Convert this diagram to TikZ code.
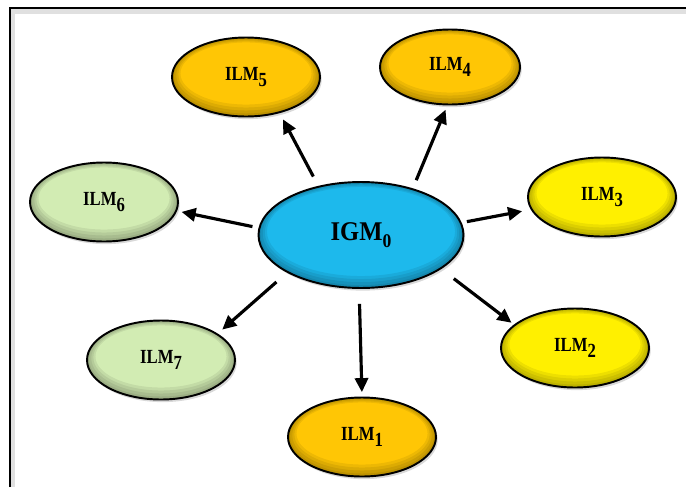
\documentclass[tikz,border=0pt]{standalone}
\usepackage{graphicx}
\usepackage{fontspec}
\setmainfont{Liberation Serif}
\usetikzlibrary{shapes.geometric,arrows.meta,shadows,calc}

\definecolor{igmblue}{HTML}{1DB9EC}
\definecolor{ilmgold}{HTML}{FFC605}
\definecolor{ilmyellow}{HTML}{FFF000}
\definecolor{ilmgreen}{HTML}{D2ECB3}

\newcommand{\ilmlabel}[1]{\scalebox{1}[1.2]{ILM\raisebox{-2.5pt}{#1}}}
\newcommand{\igmlabel}[1]{\scalebox{1}[1.1]{IGM\raisebox{-4pt}{\fontsize{10}{10}\selectfont #1}}}

\begin{document}
\begin{tikzpicture}[x=0.02cm,y=-0.02cm,
	bubble/.style={ellipse,draw,line width=1.1pt,fill=#1,inner sep=0pt,
		drop shadow={opacity=.3,shadow xshift=1pt,shadow yshift=-1.5pt},
		path picture={
			\foreach \k in {1,...,4}
				\fill[black,opacity=.07,even odd rule]
					let \p1=(path picture bounding box.north east),
					    \p2=(path picture bounding box.center) in
					(\p2) ellipse [x radius={\x1-\x2}, y radius={\y1-\y2}]
					({\x2},{\y2+0.5*\k pt}) ellipse [x radius={\x1-\x2-1.2*\k pt}, y radius={\y1-\y2-1.2*\k pt}];
		},
		font=\bfseries\fontsize{9.5}{11}\selectfont,
		minimum width=2.96cm,minimum height=1.58cm},
	hub/.style={bubble=igmblue,minimum width=4.1cm,minimum height=2.12cm,
		font=\bfseries\fontsize{14}{16}\selectfont},
	link/.style={-{Triangle[length=8pt,width=7.5pt]},line width=1.8pt}
]
	\useasboundingbox (0,0) rectangle (686,487);

	% frame
	\draw[black!12,line width=3pt] (12,487) -- (12,11) -- (686,11);
	\draw[line width=1.2pt] (10,487) -- (10,8) -- (686,8);

	\node[hub] (igm) at (361,235) {\igmlabel{0}};

	\node[bubble=ilmgold]   (ilm1) at (362,437) {\ilmlabel{1}};
	\node[bubble=ilmyellow] (ilm2) at (575,348) {\ilmlabel{2}};
	\node[bubble=ilmyellow] (ilm3) at (602,197) {\ilmlabel{3}};
	\node[bubble=ilmgold,minimum width=2.8cm,minimum height=1.5cm] (ilm4) at (450,67) {\ilmlabel{4}};
	\node[bubble=ilmgold]   (ilm5) at (246,77) {\ilmlabel{5}};
	\node[bubble=ilmgreen]  (ilm6) at (104,202) {\ilmlabel{6}};
	\node[bubble=ilmgreen]  (ilm7) at (161,360) {\ilmlabel{7}};

	\foreach \tgt/\from/\to/\gapa/\gapb in {ilm1/-92/90/8.5/2.5, ilm2/-23/159/9/1.7,
		ilm3/7/190/3/5, ilm4/42/-94/5/2.6, ilm5/131/-47/6/4, ilm6/176/-7/3.5/2.6,
		ilm7/207/25/8/3.4}
		\draw[link,shorten <=\gapa pt,shorten >=\gapb pt] (igm.\from) -- (\tgt.\to);
\end{tikzpicture}
\end{document}
